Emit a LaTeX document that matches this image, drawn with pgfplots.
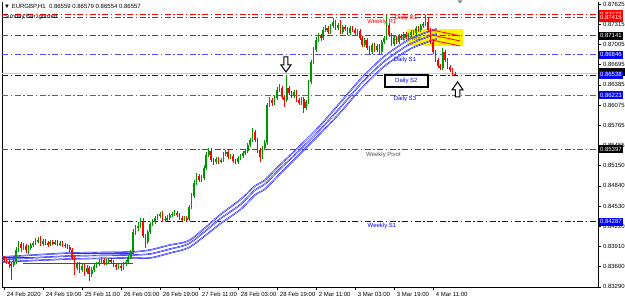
\documentclass[border=0pt]{standalone}
\usepackage{pgfplots}
\pgfplotsset{compat=1.18}
\usepackage{pgfplotstable}
\usepackage{fontspec}
\setmainfont{Liberation Sans}
\definecolor{bull}{RGB}{0,150,0}
\definecolor{bear}{RGB}{255,0,0}
\definecolor{lblue}{RGB}{80,80,255}
\definecolor{pivgray}{RGB}{80,80,80}
\newcommand{\sz}{\fontsize{6}{7}\selectfont}
\pgfplotstableread{
i O H L C
0 0.83733 0.83764 0.83672 0.83703
1 0.83703 0.83733 0.83642 0.83672
2 0.83672 0.83703 0.83580 0.83642
3 0.83642 0.83672 0.83396 0.83626
4 0.83626 0.83718 0.83596 0.83672
5 0.83672 0.83902 0.83642 0.83856
6 0.83856 0.83994 0.83825 0.83948
7 0.83948 0.83979 0.83825 0.83887
8 0.83887 0.83963 0.83856 0.83917
9 0.83917 0.83948 0.83810 0.83856
10 0.83856 0.83933 0.83795 0.83887
11 0.83887 0.83963 0.83856 0.83933
12 0.83933 0.83994 0.83902 0.83963
13 0.83963 0.84040 0.83933 0.83994
14 0.83994 0.84055 0.83963 0.84009
15 0.84009 0.84071 0.83917 0.83948
16 0.83948 0.84025 0.83917 0.83994
17 0.83994 0.84025 0.83933 0.83963
18 0.83963 0.83994 0.83902 0.83948
19 0.83948 0.84009 0.83917 0.83979
20 0.83979 0.84009 0.83933 0.83963
21 0.83963 0.84009 0.83933 0.83979
22 0.83979 0.84009 0.83917 0.83948
23 0.83948 0.83994 0.83917 0.83963
24 0.83963 0.83994 0.83902 0.83933
25 0.83933 0.83963 0.83887 0.83917
26 0.83917 0.83948 0.83871 0.83902
27 0.83902 0.83933 0.83825 0.83856
28 0.83856 0.83887 0.83703 0.83733
29 0.83733 0.83764 0.83473 0.83580
30 0.83580 0.83672 0.83550 0.83642
31 0.83642 0.83672 0.83504 0.83550
32 0.83550 0.83657 0.83519 0.83611
33 0.83611 0.83642 0.83458 0.83519
34 0.83519 0.83626 0.83488 0.83580
35 0.83580 0.83611 0.83381 0.83488
36 0.83488 0.83596 0.83442 0.83550
37 0.83550 0.83642 0.83519 0.83611
38 0.83611 0.83672 0.83580 0.83642
39 0.83642 0.83718 0.83611 0.83672
40 0.83672 0.83749 0.83642 0.83703
41 0.83703 0.83733 0.83626 0.83657
42 0.83657 0.83718 0.83626 0.83688
43 0.83688 0.83733 0.83657 0.83703
44 0.83703 0.83733 0.83642 0.83672
45 0.83672 0.83703 0.83596 0.83626
46 0.83626 0.83657 0.83550 0.83596
47 0.83596 0.83642 0.83565 0.83611
48 0.83611 0.83642 0.83534 0.83580
49 0.83580 0.83672 0.83550 0.83642
50 0.83642 0.83703 0.83611 0.83672
51 0.83672 0.83779 0.83657 0.83749
52 0.83749 0.83856 0.83718 0.83825
53 0.83825 0.84178 0.83795 0.84132
54 0.84132 0.84239 0.84086 0.84193
55 0.84193 0.84285 0.84147 0.84224
56 0.84224 0.84346 0.84193 0.84285
57 0.84285 0.84346 0.84040 0.84071
58 0.84071 0.84101 0.83887 0.83979
59 0.83979 0.84162 0.83948 0.84132
60 0.84132 0.84285 0.84101 0.84254
61 0.84254 0.84331 0.84224 0.84285
62 0.84285 0.84377 0.84254 0.84346
63 0.84346 0.84408 0.84316 0.84377
64 0.84377 0.84438 0.84346 0.84408
65 0.84408 0.84454 0.84285 0.84316
66 0.84316 0.84377 0.84285 0.84331
67 0.84331 0.84392 0.84300 0.84346
68 0.84346 0.84423 0.84316 0.84392
69 0.84392 0.84438 0.84362 0.84408
70 0.84408 0.84469 0.84377 0.84423
71 0.84423 0.84454 0.84362 0.84392
72 0.84392 0.84423 0.84316 0.84346
73 0.84346 0.84377 0.84300 0.84331
74 0.84331 0.84377 0.84300 0.84346
75 0.84346 0.84377 0.84300 0.84331
76 0.84331 0.84545 0.84300 0.84515
77 0.84515 0.84729 0.84484 0.84683
78 0.84683 0.84928 0.84653 0.84882
79 0.84882 0.85036 0.84852 0.84990
80 0.84990 0.85020 0.84898 0.84928
81 0.84928 0.85005 0.84898 0.84959
82 0.84959 0.85158 0.84928 0.85112
83 0.85112 0.85357 0.85082 0.85311
84 0.85311 0.85419 0.85281 0.85373
85 0.85373 0.85419 0.85204 0.85235
86 0.85235 0.85265 0.85158 0.85204
87 0.85204 0.85281 0.85174 0.85250
88 0.85250 0.85281 0.85174 0.85204
89 0.85204 0.85265 0.85189 0.85235
90 0.85235 0.85357 0.85204 0.85327
91 0.85327 0.85388 0.85296 0.85357
92 0.85357 0.85388 0.85250 0.85281
93 0.85281 0.85327 0.85250 0.85296
94 0.85296 0.85327 0.85189 0.85220
95 0.85220 0.85250 0.85174 0.85204
96 0.85204 0.85296 0.85174 0.85265
97 0.85265 0.85327 0.85235 0.85296
98 0.85296 0.85373 0.85265 0.85342
99 0.85342 0.85403 0.85311 0.85373
100 0.85373 0.85495 0.85342 0.85465
101 0.85465 0.85572 0.85434 0.85541
102 0.85541 0.85725 0.85511 0.85664
103 0.85664 0.85694 0.85511 0.85541
104 0.85541 0.85572 0.85342 0.85388
105 0.85388 0.85419 0.85204 0.85281
106 0.85281 0.85449 0.85250 0.85419
107 0.85419 0.85541 0.85388 0.85495
108 0.85495 0.86108 0.85465 0.86077
109 0.86077 0.86200 0.86047 0.86154
110 0.86154 0.86185 0.86062 0.86108
111 0.86108 0.86215 0.86077 0.86185
112 0.86185 0.86353 0.86154 0.86307
113 0.86307 0.86399 0.86277 0.86338
114 0.86338 0.86369 0.86169 0.86200
115 0.86200 0.86231 0.86047 0.86154
116 0.86154 0.86537 0.86123 0.86338
117 0.86338 0.86369 0.86231 0.86261
118 0.86261 0.86292 0.86185 0.86215
119 0.86215 0.86307 0.86185 0.86277
120 0.86277 0.86307 0.86123 0.86154
121 0.86154 0.86185 0.86077 0.86108
122 0.86108 0.86200 0.86077 0.86169
123 0.86169 0.86200 0.85955 0.86031
124 0.86031 0.86154 0.86001 0.86123
125 0.86123 0.86460 0.86093 0.86430
126 0.86430 0.86767 0.86399 0.86736
127 0.86736 0.86966 0.86706 0.86920
128 0.86920 0.87119 0.86889 0.87073
129 0.87073 0.87180 0.87043 0.87135
130 0.87135 0.87165 0.87058 0.87104
131 0.87104 0.87272 0.87073 0.87226
132 0.87226 0.87303 0.87196 0.87257
133 0.87257 0.87288 0.87165 0.87196
134 0.87196 0.87318 0.87165 0.87288
135 0.87288 0.87410 0.87257 0.87349
136 0.87349 0.87380 0.87226 0.87257
137 0.87257 0.87334 0.87226 0.87303
138 0.87303 0.87380 0.87165 0.87196
139 0.87196 0.87303 0.87165 0.87272
140 0.87272 0.87303 0.87211 0.87242
141 0.87242 0.87272 0.87150 0.87180
142 0.87180 0.87288 0.87150 0.87257
143 0.87257 0.87288 0.87196 0.87226
144 0.87226 0.87257 0.87150 0.87180
145 0.87180 0.87242 0.87150 0.87211
146 0.87211 0.87242 0.87073 0.87104
147 0.87104 0.87135 0.86966 0.86997
148 0.86997 0.87104 0.86966 0.87073
149 0.87073 0.87104 0.86920 0.86951
150 0.86951 0.86981 0.86859 0.86889
151 0.86889 0.87027 0.86859 0.86997
152 0.86997 0.87027 0.86889 0.86920
153 0.86920 0.87012 0.86889 0.86981
154 0.86981 0.87012 0.86859 0.86889
155 0.86889 0.87073 0.86859 0.87043
156 0.87043 0.87135 0.87012 0.87104
157 0.87104 0.87456 0.87073 0.87303
158 0.87303 0.87334 0.87119 0.87150
159 0.87150 0.87180 0.86981 0.87012
160 0.87012 0.87135 0.86981 0.87104
161 0.87104 0.87135 0.87012 0.87043
162 0.87043 0.87165 0.87012 0.87135
163 0.87135 0.87165 0.87073 0.87104
164 0.87104 0.87196 0.87073 0.87165
165 0.87165 0.87196 0.87089 0.87119
166 0.87119 0.87180 0.87089 0.87150
167 0.87150 0.87226 0.87119 0.87196
168 0.87196 0.87226 0.87150 0.87180
169 0.87180 0.87288 0.87150 0.87257
170 0.87257 0.87288 0.87196 0.87226
171 0.87226 0.87318 0.87196 0.87288
172 0.87288 0.87349 0.87257 0.87318
173 0.87318 0.87456 0.87288 0.87349
174 0.87349 0.87426 0.87196 0.87226
175 0.87226 0.87257 0.87012 0.87043
176 0.87043 0.87073 0.86859 0.86889
177 0.86889 0.86920 0.86736 0.86767
178 0.86767 0.86797 0.86644 0.86675
179 0.86675 0.86706 0.86614 0.86644
180 0.86644 0.86951 0.86614 0.86889
181 0.86889 0.86920 0.86736 0.86767
182 0.86767 0.86797 0.86629 0.86660
183 0.86660 0.86690 0.86583 0.86614
184 0.86614 0.86644 0.86522 0.86552
185 0.86559 0.86579 0.86554 0.86557
}\data
\begin{document}
\begin{tikzpicture}
\useasboundingbox (0,0) rectangle (625pt,302pt);
\begin{axis}[
  at={(2pt,15pt)}, anchor=south west, scale only axis,
  width=596pt, height=285pt,
  xmin=-0.8, xmax=243.71, ymin=0.83289, ymax=0.87655,
  clip=false,
  axis x line*=bottom, axis y line*=right,
  axis line style={black, line width=0.6pt},
  tick align=outside, major tick length=3pt,
  tick style={black, line width=0.5pt},
  xtick={0,16,32,48,64,80,96,112,128,144,160,176},
  xticklabels={24 Feb 2020,24 Feb 19:00,25 Feb 11:00,26 Feb 03:00,26 Feb 19:00,27 Feb 11:00,28 Feb 03:00,28 Feb 19:00,2 Mar 11:00,3 Mar 03:00,3 Mar 19:00,4 Mar 11:00},
  xticklabel style={anchor=north west, font=\sz, xshift=-0.5pt, yshift=1.5pt},
  ytick={0.83290,0.83600,0.83910,0.84220,0.84530,0.84840,0.85150,0.85455,0.85765,0.86075,0.86385,0.86695,0.87005,0.87315,0.87625},
  yticklabels={0.83290,0.83600,0.83910,0.84220,0.84530,0.84840,0.85150,0.85455,0.85765,0.86075,0.86385,0.86695,0.87005,0.87315,0.87625},
  yticklabel style={font=\sz, anchor=west, xshift=-1.5pt},
  scaled y ticks=false,
]
% left border
\draw[black, line width=0.6pt] (rel axis cs:0,0) -- (rel axis cs:0,1);
% yellow rectangle
\fill[yellow] (axis cs:165.3,0.87242) rectangle (axis cs:188.3,0.86981);
% level lines
\addplot[bear, line width=0.7pt, dash pattern=on 6pt off 2.5pt on 1.5pt off 2.5pt] coordinates {(-0.8,0.87472) (243.71,0.87472)};
\addplot[bear, line width=0.7pt, dash pattern=on 6pt off 2.5pt on 1.5pt off 2.5pt] coordinates {(-0.8,0.87415) (243.71,0.87415)};
\addplot[pivgray, line width=0.7pt, dash pattern=on 6pt off 2.5pt on 1.5pt off 2.5pt] coordinates {(-0.8,0.87141) (243.71,0.87141)};
\addplot[lblue, line width=0.7pt, dash pattern=on 6pt off 2.5pt on 1.5pt off 2.5pt] coordinates {(-0.8,0.86846) (243.71,0.86846)};
\addplot[gray!40, line width=0.6pt] coordinates {(-0.8,0.86557) (243.71,0.86557)};
\addplot[blue, line width=0.8pt, dash pattern=on 6pt off 2.5pt on 1.5pt off 2.5pt] coordinates {(-0.8,0.86538) (243.71,0.86538)};
\addplot[lblue, line width=0.7pt, dash pattern=on 6pt off 2.5pt on 1.5pt off 2.5pt] coordinates {(-0.8,0.86223) (243.71,0.86223)};
\addplot[pivgray, line width=0.7pt, dash pattern=on 6pt off 2.5pt on 1.5pt off 2.5pt] coordinates {(-0.8,0.85397) (243.71,0.85397)};
\addplot[blue, line width=0.7pt, dash pattern=on 6pt off 2.5pt on 1.5pt off 2.5pt] coordinates {(-0.8,0.84287) (243.71,0.84287)};
% red early band segments
\addplot[bear, line width=0.7pt] coordinates {(28,0.83810) (53,0.83810)};
\addplot[bear, line width=0.7pt] coordinates {(8,0.83657) (53,0.83657)};
\addplot[bear, line width=0.7pt] coordinates {(-0.8,0.83741) (14,0.83741)};
% blue MA bands
\addplot[draw=blue, double=blue!15!white, double distance=0.45pt, line width=0.45pt, smooth, tension=0.4] coordinates {(-0.8,0.83749) (27.1,0.83810) (51.7,0.83825) (59.9,0.83856) (68.1,0.83933) (76.3,0.84009) (88.6,0.84392) (96.8,0.84622) (103,0.84836) (107.1,0.84928) (113.2,0.85158) (121.4,0.85449) (129.6,0.85756) (137.8,0.86108) (146,0.86460) (154.3,0.86767) (158.4,0.86889) (166.6,0.87089) (174.8,0.87211) (177.6,0.87242)};
\addplot[draw=blue, double=blue!15!white, double distance=0.45pt, line width=0.45pt, smooth, tension=0.4] coordinates {(-0.8,0.83710) (27.1,0.83764) (51.7,0.83779) (59.9,0.83795) (68.1,0.83871) (76.3,0.83963) (88.6,0.84331) (96.8,0.84545) (103,0.84775) (107.1,0.84867) (113.2,0.85097) (121.4,0.85388) (129.6,0.85694) (137.8,0.86031) (146,0.86384) (154.3,0.86690) (158.4,0.86813) (166.6,0.87012) (174.8,0.87135) (177.6,0.87165)};
\addplot[draw=blue, double=blue!15!white, double distance=0.45pt, line width=0.45pt, smooth, tension=0.4] coordinates {(-0.8,0.83672) (27.1,0.83718) (51.7,0.83733) (59.9,0.83733) (68.1,0.83810) (76.3,0.83902) (88.6,0.84254) (96.8,0.84469) (103,0.84699) (107.1,0.84791) (113.2,0.85020) (121.4,0.85327) (129.6,0.85633) (137.8,0.85955) (146,0.86307) (154.3,0.86614) (158.4,0.86736) (166.6,0.86935) (174.8,0.87058) (177.6,0.87089)};
% red projections
\addplot[bear, line width=0.8pt] coordinates {(175.6,0.87226) (187.1,0.87135)};
\addplot[bear, line width=0.8pt] coordinates {(175.6,0.87150) (187.1,0.87058)};
\addplot[bear, line width=0.8pt] coordinates {(175.6,0.87073) (187.1,0.86981)};
% wicks
\addplot[draw=none, error bars/.cd, y dir=both, y explicit, error mark=none, error bar style={bull, line width=0.6pt}]
  table[x=i, y expr={\thisrow{C}<\thisrow{O} ? nan : \thisrow{C}}, y error plus expr={\thisrow{H}-\thisrow{C}}, y error minus expr={\thisrow{C}-\thisrow{L}}] {\data};
\addplot[draw=none, error bars/.cd, y dir=both, y explicit, error mark=none, error bar style={bear, line width=0.6pt}]
  table[x=i, y expr={\thisrow{C}<\thisrow{O} ? \thisrow{C} : nan}, y error plus expr={\thisrow{H}-\thisrow{C}}, y error minus expr={\thisrow{C}-\thisrow{L}}] {\data};
% bodies
\addplot[draw=none, error bars/.cd, y dir=both, y explicit, error mark=none, error bar style={bull, line width=1.6pt}]
  table[x=i, y expr={\thisrow{C}<\thisrow{O} ? nan : (\thisrow{O}+\thisrow{C})/2}, y error expr={(\thisrow{C}-\thisrow{O})/2}] {\data};
\addplot[draw=none, error bars/.cd, y dir=both, y explicit, error mark=none, error bar style={bear, line width=1.6pt}]
  table[x=i, y expr={\thisrow{C}<\thisrow{O} ? (\thisrow{O}+\thisrow{C})/2 : nan}, y error expr={(\thisrow{O}-\thisrow{C})/2}] {\data};
% level labels
\node[text=bear, font=\sz] at (axis cs:155,0.87350) {Weekly R1};
\node[text=bear, font=\sz] at (axis cs:164.9,0.87403) {Daily R1};
\node[text=pivgray, font=\sz] at (axis cs:165.3,0.87082) {Daily Pivot};
\node[text=blue, font=\sz] at (axis cs:164.5,0.86774) {Daily S1};
\draw[black, line width=1.2pt, fill=white] (axis cs:156.3,0.86537) rectangle (axis cs:174,0.86353);
\node[text=blue, font=\sz] at (axis cs:165.1,0.86446) {Daily S2};
\node[text=blue, font=\sz] at (axis cs:164.5,0.86163) {Daily S3};
\node[text=pivgray, font=\sz] at (axis cs:155.7,0.85319) {Weekly Pivot};
\node[text=blue, font=\sz] at (axis cs:155.1,0.84217) {Weekly S1};
% arrow anchors
\coordinate (dn) at (axis cs:115.7,0.86583);
\coordinate (up) at (axis cs:186.1,0.86430);
% right price boxes
\node[fill=bear, text=white, anchor=west, font=\sz, inner xsep=1pt, inner ysep=0pt, minimum height=8pt, xshift=0.8pt] at (axis cs:243.71,0.87472) {0.87472};
\node[fill=bear, text=white, anchor=west, font=\sz, inner xsep=1pt, inner ysep=0pt, minimum height=8pt, xshift=0.8pt] at (axis cs:243.71,0.87415) {0.87415};
\node[fill=black, text=white, anchor=west, font=\sz, inner xsep=1pt, inner ysep=0pt, minimum height=8pt, xshift=0.8pt] at (axis cs:243.71,0.87141) {0.87141};
\node[fill=blue, text=white, anchor=west, font=\sz, inner xsep=1pt, inner ysep=0pt, minimum height=8pt, xshift=0.8pt] at (axis cs:243.71,0.86846) {0.86846};
\fill[black] ([xshift=0.8pt,yshift=-4pt]axis cs:243.71,0.86580) rectangle ([xshift=28pt,yshift=4pt]axis cs:243.71,0.86580);
\node[fill=blue, text=white, anchor=west, font=\sz, inner xsep=1pt, inner ysep=0pt, minimum height=8pt, xshift=0.8pt] at (axis cs:243.71,0.86538) {0.86538};
\node[fill=blue, text=white, anchor=west, font=\sz, inner xsep=1pt, inner ysep=0pt, minimum height=8pt, xshift=0.8pt] at (axis cs:243.71,0.86223) {0.86223};
\node[fill=black, text=white, anchor=west, font=\sz, inner xsep=1pt, inner ysep=0pt, minimum height=8pt, xshift=0.8pt] at (axis cs:243.71,0.85397) {0.85397};
\node[fill=blue, text=white, anchor=west, font=\sz, inner xsep=1pt, inner ysep=0pt, minimum height=8pt, xshift=0.8pt] at (axis cs:243.71,0.84287) {0.84287};
\end{axis}
% hollow arrows
\draw[black, line width=1pt, fill=white, shift={(dn)}] (0pt,0pt) -- (5pt,7pt) -- (2pt,7pt) -- (2pt,15pt) -- (-2pt,15pt) -- (-2pt,7pt) -- (-5pt,7pt) -- cycle;
\draw[black, line width=1pt, fill=white, shift={(up)}] (0pt,0pt) -- (5.5pt,-8pt) -- (2.2pt,-8pt) -- (2.2pt,-15pt) -- (-2.2pt,-15pt) -- (-2.2pt,-8pt) -- (-5.5pt,-8pt) -- cycle;
% header
\node[anchor=west, font=\sz, inner sep=0pt] at (4pt,295pt) {▼ EURGBP,H1\ \ 0.86559 0.86579 0.86554 0.86557};
\node[anchor=west, font=\sz, inner sep=0pt] at (4pt,285pt) {Sunday Bar ignored};
\fill[gray] (457.5pt,301.5pt) -- (462.5pt,301.5pt) -- (460pt,298.5pt) -- cycle;
\end{tikzpicture}
\end{document}
